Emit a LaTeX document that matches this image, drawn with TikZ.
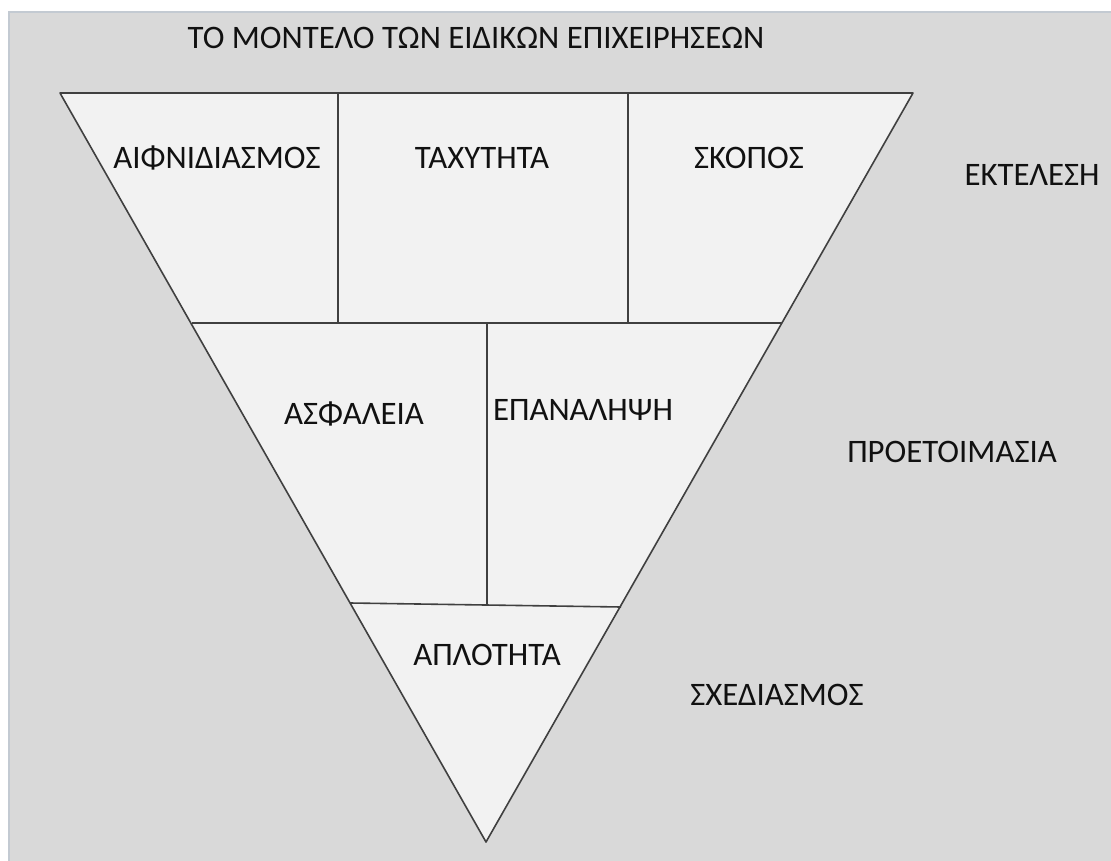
\documentclass[tikz,border=0pt]{standalone}
\usepackage{fontspec}
\setmainfont{Carlito}
\definecolor{bggray}{HTML}{D9D9D9}
\definecolor{tri}{HTML}{F2F2F2}
\definecolor{edge}{HTML}{C3CAD2}
\definecolor{ln}{HTML}{404040}
\definecolor{txt}{HTML}{111111}
\begin{document}
\begin{tikzpicture}[x=1pt,y=-1pt,
  lbl/.style={font=\fontsize{32.8}{36}\selectfont,text=txt,inner sep=0pt,anchor=center},
  part/.style={draw=ln,line width=1.6pt}]
\useasboundingbox (0,0) rectangle (1111,861);
\fill[white] (0,0) rectangle (1111,861);
\filldraw[fill=bggray,draw=edge,line width=1.5pt] (9,12) rectangle (1115,865);
% triangle
\coordinate (A) at (60,93);
\coordinate (B) at (913,93);
\coordinate (C) at (486,842);
\filldraw[fill=tri,draw=ln,line width=1.6pt,line join=round] (A) -- (B) -- (C) -- cycle;
% inner divisions
\coordinate (h1l) at (192,323);
\coordinate (h1r) at (782,323);
\coordinate (h2l) at (350,603);
\coordinate (h2r) at (621,607);
\draw[part] (h1l) -- (h1r);
\draw[part] (h2l) -- (h2r);
\draw[part] (338,93) -- (338,323);
\draw[part] (628,93) -- (628,323);
\draw[part] (487,323) -- (487,605);
% labels
\node[lbl] (title) at (476,38) {ΤΟ ΜΟΝΤΕΛΟ ΤΩΝ ΕΙΔΙΚΩΝ ΕΠΙΧΕΙΡΗΣΕΩΝ};
\node[lbl] (aif) at (217,158) {ΑΙΦΝΙΔΙΑΣΜΟΣ};
\node[lbl] (tax) at (482,158) {ΤΑΧΥΤΗΤΑ};
\node[lbl] (sko) at (749,158) {ΣΚΟΠΟΣ};
\node[lbl] (ekt) at (1032,175) {ΕΚΤΕΛΕΣΗ};
\node[lbl] (asf) at (354,414) {ΑΣΦΑΛΕΙΑ};
\node[lbl] (epa) at (583,410) {ΕΠΑΝΑΛΗΨΗ};
\node[lbl] (pro) at (952,452) {ΠΡΟΕΤΟΙΜΑΣΙΑ};
\node[lbl] (apl) at (487,655) {ΑΠΛΟΤΗΤΑ};
\node[lbl] (sxe) at (777,695) {ΣΧΕΔΙΑΣΜΟΣ};
\end{tikzpicture}
\end{document}
